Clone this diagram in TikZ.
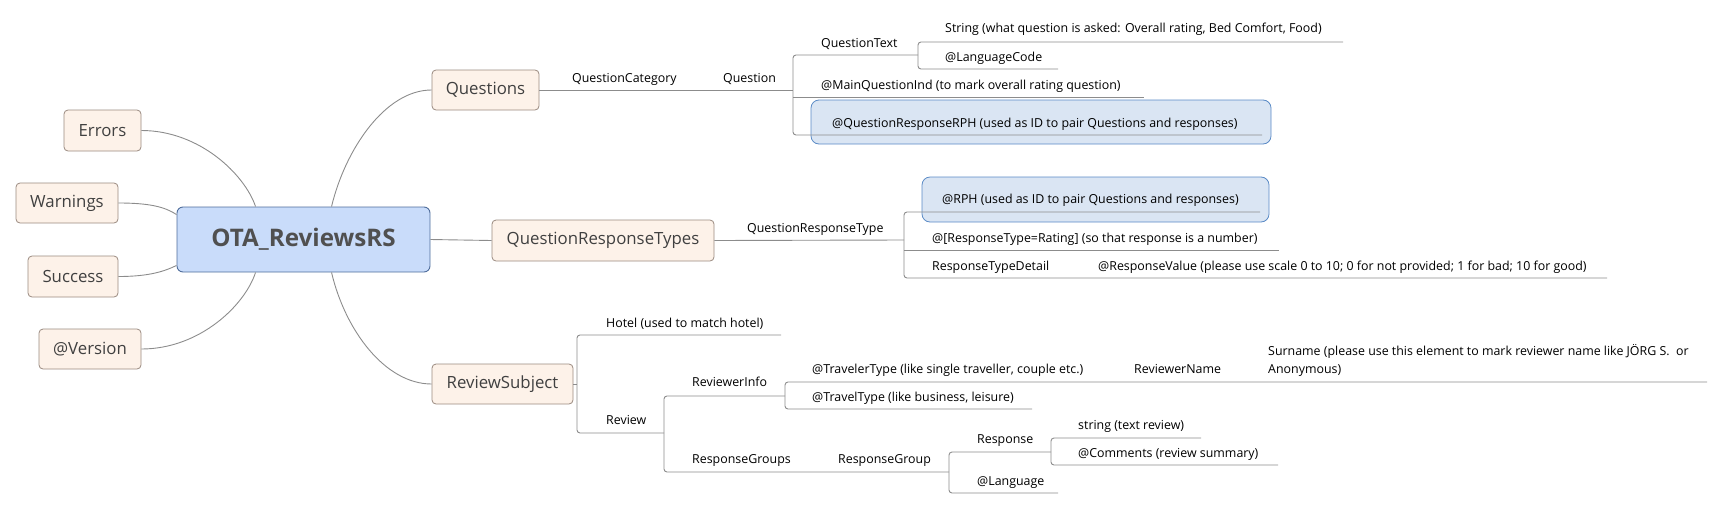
\documentclass[tikz,border=0pt]{standalone}
\usepackage{fontspec}
\setmainfont{Open Sans}
\usetikzlibrary{calc}
\definecolor{ln}{HTML}{8C8C8C}
\definecolor{topicf}{HTML}{FDF2E9}
\definecolor{topicb}{HTML}{9A8A80}
\definecolor{cenf}{HTML}{C9DCFA}
\definecolor{cenb}{HTML}{4F6D9B}
\definecolor{hif}{HTML}{DAE5F3}
\definecolor{hib}{HTML}{5A8AC6}
\definecolor{txt}{HTML}{404040}
\definecolor{centxt}{HTML}{505050}
\begin{document}
\begin{tikzpicture}[x=1pt,y=-1pt,
  central/.style={draw=cenb, fill=cenf, rounded corners=6pt, line width=0.9pt, inner sep=0pt, text=centxt, font=\fontsize{24.2}{26}\selectfont\bfseries},
  topic/.style={draw=topicb, fill=topicf, rounded corners=4pt, line width=0.8pt, inner sep=0pt, text=txt, font=\fontsize{16.8}{18}\selectfont},
  hibox/.style={draw=hib, fill=hif, rounded corners=8pt, line width=0.8pt},
  lbl/.style={anchor=base west, inner sep=0pt, font=\fontsize{12.4}{18}\selectfont},
  conn/.style={draw=ln, line width=0.9pt},
  tree/.style={draw=ln, line width=0.9pt, rounded corners=3pt}]
\useasboundingbox (0,0) rectangle (1729,509);

% main topics
\node[central, minimum width=253pt, minimum height=65pt] (c) at (303.5,239.5) {OTA\_ReviewsRS};
\node[topic, minimum width=77pt, minimum height=41pt] (err) at (102.5,130.5) {Errors};
\node[topic, minimum width=102pt, minimum height=40pt] (warn) at (67,203) {Warnings};
\node[topic, minimum width=90pt, minimum height=41pt] (succ) at (73,276.5) {Success};
\node[topic, minimum width=102pt, minimum height=40pt] (ver) at (90,349) {@Version};
\node[topic, minimum width=107pt, minimum height=40pt] (q) at (485.5,90) {Questions};
\node[topic, minimum width=222pt, minimum height=41pt] (qrt) at (603,240.5) {QuestionResponseTypes};
\node[topic, minimum width=141pt, minimum height=40pt] (rs) at (502.5,384) {ReviewSubject};

% connectors from central topic
\draw[conn] (err.east) .. controls (200,130.5) and (245,175) .. ([xshift=79pt]c.north west);
\draw[conn] (warn.east) .. controls (150,203) and (165,207) .. ([yshift=-8pt]c.north west);
\draw[conn] (succ.east) .. controls (150,276.5) and (165,271) .. ([yshift=7pt]c.south west);
\draw[conn] (ver.east) .. controls (200,349) and (245,305) .. ([xshift=79pt]c.south west);
\draw[conn] ([xshift=155pt]c.north west) .. controls (345,150) and (385,90) .. (q.west);
\draw[conn] ([xshift=155pt]c.south west) .. controls (345,330) and (385,384) .. (rs.west);
\draw[conn] (c.east) -- (qrt.west);

% highlight boxes
\draw[hibox] (811,100) rectangle (1271,144);
\draw[hibox] (922,177) rectangle (1269,222);

% Questions branch
\coordinate (qv) at (793,90);
\draw[tree] (q.east) -- (qv);
\draw[tree] (918,55) -- (793,55) -- (793,135) -- (1262,135);
\draw[tree] (793,97) -- (1144,97);
\draw[tree] (1343,42) -- (918,42) -- (918,69) -- (1058,69);
\node[lbl] (l1) at (572,82) {QuestionCategory};
\node[lbl] (l2) at (723,82) {Question};
\node[lbl] (l3) at (821,47) {QuestionText};
\node[lbl] (l4) at (945,32) {String (what question is asked: Overall rating, Bed Comfort, Food)};
\node[lbl] (l5) at (945,61) {@LanguageCode};
\node[lbl] (l6) at (821,89) {@MainQuestionInd (to mark overall rating question)};
\node[lbl] (l7) at (832,127) {@QuestionResponseRPH (used as ID to pair Questions and responses)};

% QuestionResponseTypes branch
\coordinate (rv) at (904,240);
\draw[tree] (qrt.east) -- (rv);
\draw[tree] (1260,212) -- (904,212) -- (904,278) -- (1607,278);
\draw[tree] (904,250) -- (1279,250);
\node[lbl] (m1) at (747,232) {QuestionResponseType};
\node[lbl] (m2) at (942,203) {@RPH (used as ID to pair Questions and responses)};
\node[lbl] (m3) at (932,242) {@[ResponseType=Rating] (so that response is a number)};
\node[lbl] (m4) at (932,270) {ResponseTypeDetail};
\node[lbl] (m5) at (1098,270) {@ResponseValue (please use scale 0 to 10; 0 for not provided; 1 for bad; 10 for good)};

% ReviewSubject branch
\coordinate (sv) at (577,384);
\draw[tree] (rs.east) -- (sv);
\draw[tree] (781,335) -- (577,335) -- (577,433) -- (664,433);
\draw[tree] (785,396) -- (664,396) -- (664,472) -- (949,472);
\draw[tree] (1707,382) -- (785,382) -- (785,409) -- (1032,409);
\draw[tree] (1051,452) -- (949,452) -- (949,493) -- (1058,493);
\draw[tree] (1201,438) -- (1051,438) -- (1051,465) -- (1278,465);
\node[lbl] (n1) at (606,327) {Hotel (used to match hotel)};
\node[lbl] (n2) at (606,424) {Review};
\node[lbl] (n3) at (692,386) {ReviewerInfo};
\node[lbl] (n4) at (812,373) {@TravelerType (like single traveller, couple etc.)};
\node[lbl] (n5) at (1134,373) {ReviewerName};
\node[lbl, align=left] (n6) at (1268,373) {Surname (please use this element to mark reviewer name like JÖRG S.~ or\\Anonymous)};
\node[lbl] (n7) at (812,401) {@TravelType (like business, leisure)};
\node[lbl] (n8) at (692,463) {ResponseGroups};
\node[lbl] (n9) at (838,463) {ResponseGroup};
\node[lbl] (n10) at (977,443) {Response};
\node[lbl] (n11) at (1078,429) {string (text review)};
\node[lbl] (n12) at (1078,457) {@Comments (review summary)};
\node[lbl] (n13) at (977,485) {@Language};
\end{tikzpicture}
\end{document}
